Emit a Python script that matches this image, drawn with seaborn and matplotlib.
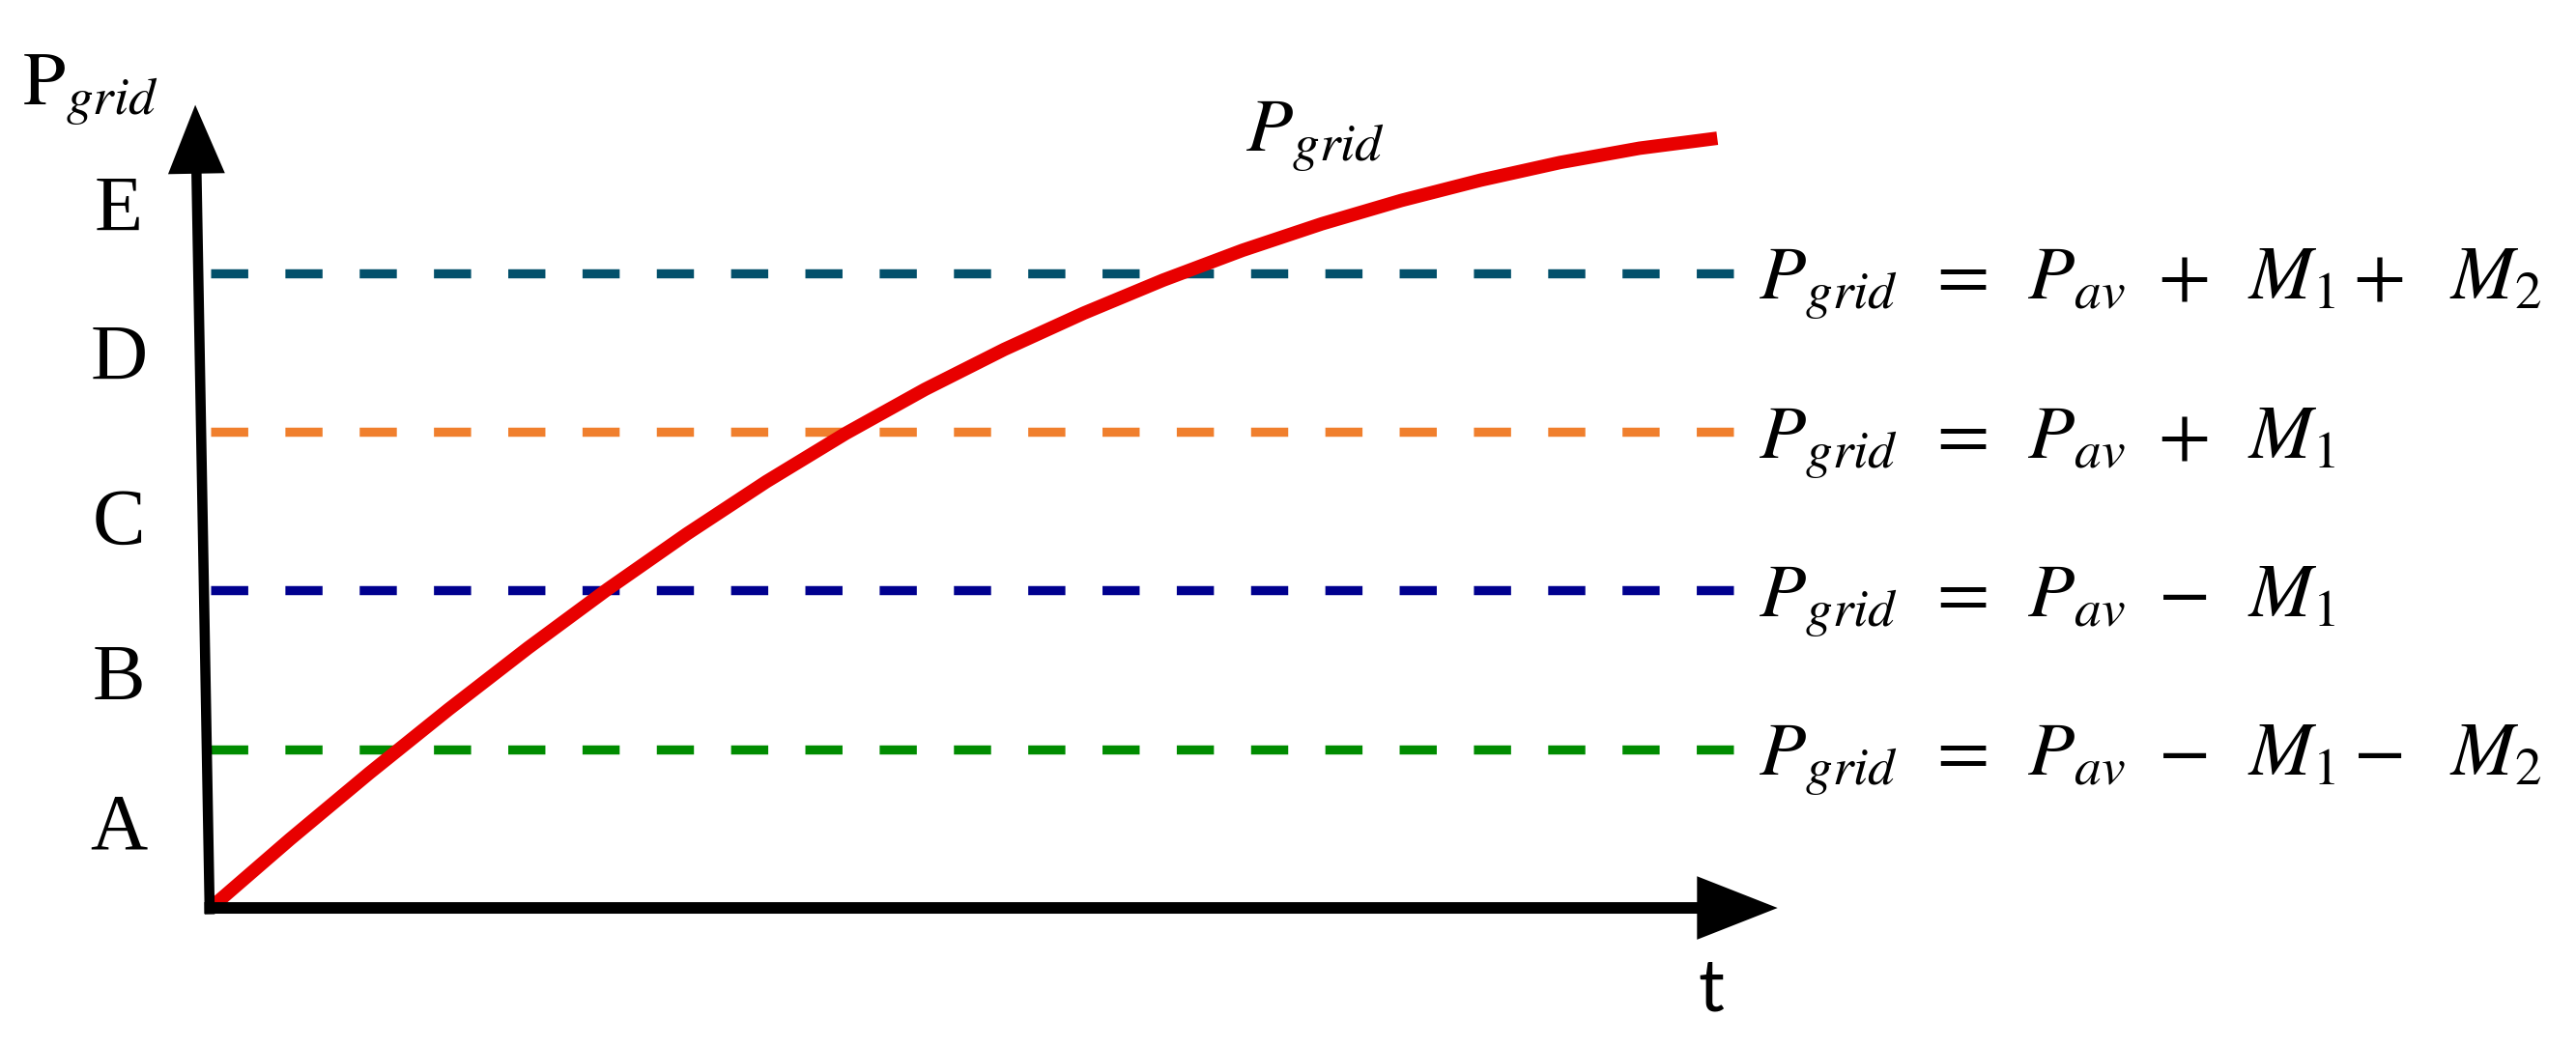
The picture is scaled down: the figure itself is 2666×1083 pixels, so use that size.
import numpy as np
import pandas as pd
import matplotlib.pyplot as plt
import seaborn as sns

# ── data (t and P in diagram units) ─────────────────────────────────────
t_curve = [0, 0.5, 1.0, 1.5, 2.0, 2.5, 3.0, 3.5, 4.0, 4.5,
           5.0, 5.5, 6.0, 6.5, 7.0, 7.5, 8.0, 8.5, 9.0, 9.49]
p_curve = [0, 0.433, 0.850, 1.252, 1.639, 2.008, 2.357, 2.686, 2.990, 3.268,
           3.520, 3.748, 3.956, 4.144, 4.311, 4.458, 4.586, 4.697, 4.787, 4.850]

levels = [1, 2, 3, 4]
level_colors = ['#008C00', '#00008F', '#F07F2D', '#02506B']
level_eqs = [r'$P_{grid}\ \,=\ \,P_{av}\ -\ \,M_1-\;\ M_2$',
             r'$P_{grid}\ \,=\ \,P_{av}\ -\ \,M_1$',
             r'$P_{grid}\ \,=\ \,P_{av}\ +\ \,M_1$',
             r'$P_{grid}\ \,=\ \,P_{av}\ +\ \,M_1+\;\ M_2$']

regions = ['A', 'B', 'C', 'D', 'E']
region_base = [0.377, 1.315, 2.295, 3.33, 4.27]

sns.set_theme(style='white')
plt.rcParams['mathtext.fontset'] = 'stix'
plt.rcParams['text.color'] = 'black'
plt.rcParams['font.family'] = ['Liberation Serif', 'DejaVu Serif']

fig = plt.figure(figsize=(26.66, 10.83), dpi=100)
ax = fig.add_axes([0, 0, 1, 1])
ax.set_xlim(-1.327, 14.899)
ax.set_ylim(-0.870, 5.721)
ax.set_axis_off()

# dashed threshold lines
for lvl, col in zip(levels, level_colors):
    ax.plot([0, 9.6], [lvl, lvl], color=col, lw=6.8,
            linestyle=(0, (4.07, 4.07)), dash_capstyle='butt', zorder=2)

# red P_grid curve
curve = pd.DataFrame({'t': t_curve, 'P': p_curve})
sns.lineplot(data=curve, x='t', y='P', sort=False, color='#E80000',
             linewidth=10.0, solid_capstyle='butt', ax=ax, zorder=3)

# axes arrows
ax.annotate('', xy=(9.87, 0), xytext=(-0.04, 0), zorder=4,
            arrowprops=dict(arrowstyle='-|>,head_length=4.4,head_width=1.73',
                            color='black', lw=8.6, shrinkA=0, shrinkB=0,
                            mutation_scale=10, joinstyle='miter', capstyle='butt'))
ax.annotate('', xy=(-0.097, 5.06), xytext=(-0.006, -0.04), zorder=4,
            arrowprops=dict(arrowstyle='-|>,head_length=3.75,head_width=1.55',
                            color='black', lw=7.6, shrinkA=0, shrinkB=0,
                            mutation_scale=10, joinstyle='miter', capstyle='butt'))

# region letters
for lab, y in zip(regions, region_base):
    ax.text(-0.58, y, lab, fontsize=59, ha='center', va='baseline')

# equations at the right of each line
for lvl, eq in zip(levels, level_eqs):
    ax.text(9.75, lvl - 0.164, eq, fontsize=57, ha='left', va='baseline')

ax.text(-1.19, 5.06, r'$\mathrm{P}_{grid}$', fontsize=57, ha='left', va='baseline')
ax.text(6.52, 4.77, r'$P_{grid}$', fontsize=57, ha='left', va='baseline')
ax.text(9.45, -0.52, 't', fontsize=54, ha='center', va='center', family='Lato')

plt.savefig('out.png', dpi=100)
